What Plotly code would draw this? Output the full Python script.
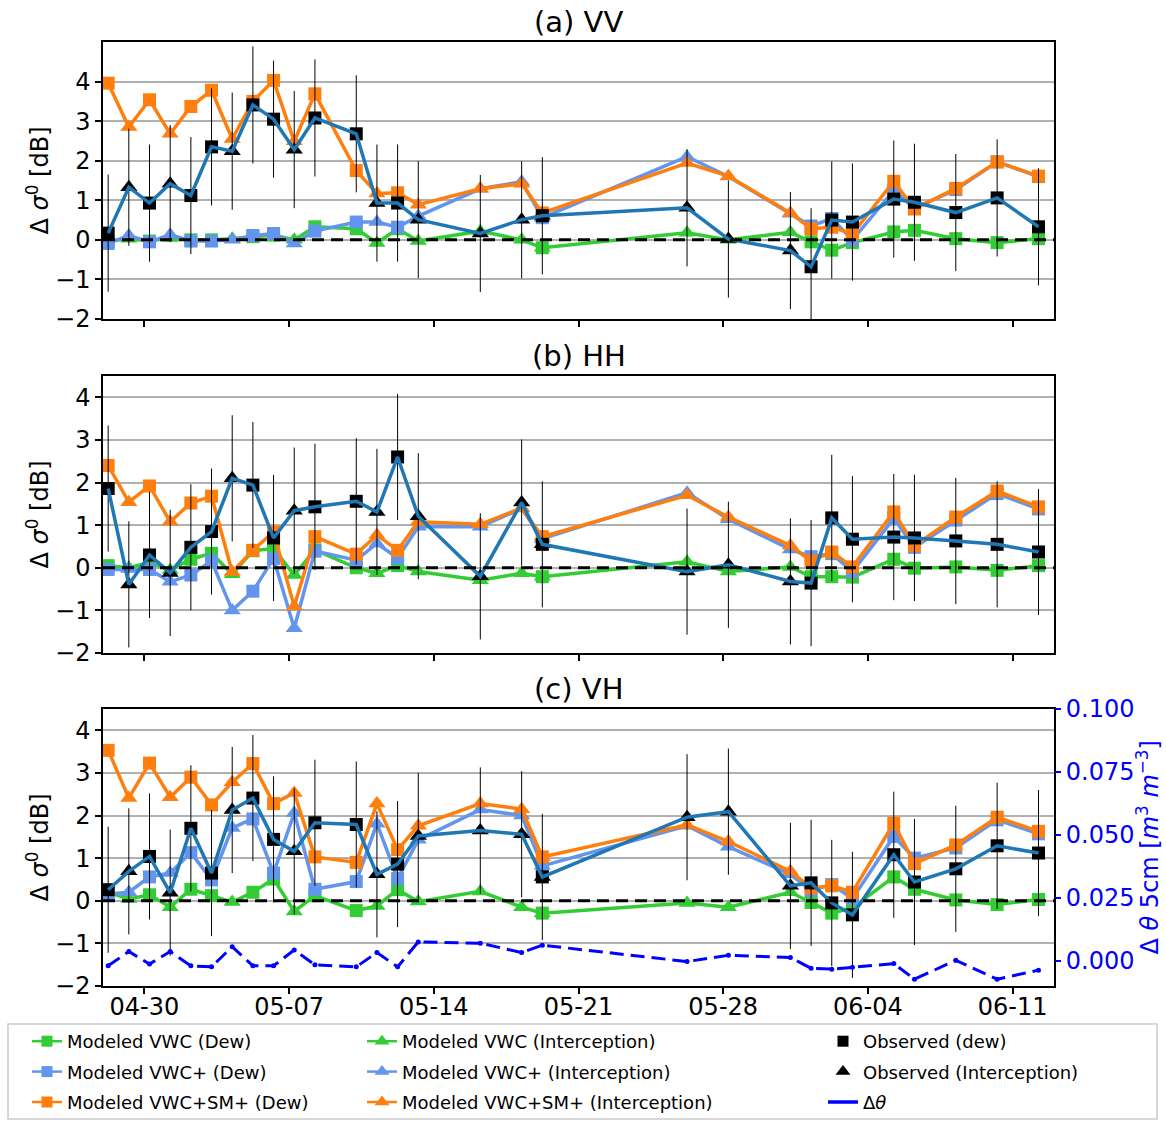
import plotly.graph_objects as go

W, H = 1166, 1121
FONT = "DejaVu Sans"

# ---- acquisition dates (morning passes) and event type: D = dew, I = interception, B = both
dates = [
    "2019-04-28 06:00", "2019-04-29 06:00", "2019-04-30 06:00", "2019-05-01 06:00",
    "2019-05-02 06:00", "2019-05-03 06:00", "2019-05-04 06:00", "2019-05-05 06:00",
    "2019-05-06 06:00", "2019-05-07 06:00", "2019-05-08 06:00", "2019-05-10 06:00",
    "2019-05-11 06:00", "2019-05-12 06:00", "2019-05-13 06:00", "2019-05-16 06:00",
    "2019-05-18 06:00", "2019-05-19 06:00", "2019-05-26 06:00", "2019-05-28 06:00",
    "2019-05-31 06:00", "2019-06-01 06:00", "2019-06-02 06:00", "2019-06-03 06:00",
    "2019-06-05 06:00", "2019-06-06 06:00", "2019-06-08 06:00", "2019-06-10 06:00",
    "2019-06-12 06:00",
]
event = ["D", "I", "D", "I", "D", "D", "I", "D", "D", "I", "D", "D", "I", "D", "I",
         "I", "I", "B", "I", "I", "I", "D", "D", "D", "D", "D", "D", "D", "D"]

x_range = ["2019-04-28", "2019-06-13"]
tick_dates = ["2019-04-30", "2019-05-07", "2019-05-14", "2019-05-21",
              "2019-05-28", "2019-06-04", "2019-06-11"]
tick_labels = ["04-30", "05-07", "05-14", "05-21", "05-28", "06-04", "06-11"]

# ---- VV
vv_vwc = [-0.03, 0.03, -0.03, 0.05, 0.0, 0.0, 0.03, 0.08, 0.12, 0.0, 0.33, 0.28, -0.08,
          0.28, -0.03, 0.22, 0.0, -0.2, 0.18, 0.0, 0.19, -0.05, -0.26, -0.07, 0.2, 0.24,
          0.03, -0.07, 0.03]
vv_vwcp = [-0.09, 0.11, -0.05, 0.13, -0.03, -0.03, 0.0, 0.11, 0.16, -0.09, 0.22, 0.45, 0.45,
           0.32, 0.6, 1.29, 1.47, 0.56, 2.1, 1.6, 0.66, 0.35, 0.54, 0.0, 1.25, 0.8, 1.27,
           1.97, 1.6]
vv_full = [3.96, 2.85, 3.54, 2.68, 3.37, 3.78, 2.55, 3.5, 4.03, 2.49, 3.69, 1.75, 1.17,
           1.19, 0.89, 1.29, 1.42, 0.68, 1.94, 1.61, 0.68, 0.28, 0.32, 0.15, 1.48, 0.78,
           1.3, 1.97, 1.61]
vv_obs = [0.17, 1.33, 0.93, 1.42, 1.12, 2.35, 2.24, 3.41, 3.05, 2.28, 3.08, 2.68, 0.93,
          0.93, 0.51, 0.16, 0.51, 0.61, 0.81, 0.02, -0.27, -0.68, 0.5, 0.45, 1.03, 0.95,
          0.69, 1.06, 0.33]

# ---- HH
hh_vwc = [0.05, 0.0, 0.12, -0.05, 0.2, 0.34, -0.15, 0.4, 0.45, -0.17, 0.42, 0.0, -0.13,
          0.05, -0.09, -0.29, -0.13, -0.21, 0.14, -0.09, 0.02, -0.21, -0.21, -0.22, 0.2,
          -0.01, 0.02, -0.06, 0.05]
hh_vwcp = [-0.04, -0.03, -0.04, -0.33, -0.17, 0.16, -1.0, -0.55, 0.22, -1.42, 0.39, 0.18,
           0.57, 0.23, 0.96, 0.96, 1.39, 0.68, 1.76, 1.14, 0.43, 0.26, 0.33, -0.09, 1.16,
           0.48, 1.12, 1.74, 1.38]
hh_full = [2.4, 1.54, 1.92, 1.08, 1.52, 1.68, -0.1, 0.41, 0.84, -0.91, 0.73, 0.32, 0.77,
           0.41, 1.08, 1.02, 1.4, 0.73, 1.7, 1.19, 0.52, 0.16, 0.37, 0.02, 1.31, 0.52,
           1.19, 1.8, 1.43]
hh_obs = [1.86, -0.39, 0.3, -0.12, 0.48, 0.85, 2.1, 1.94, 0.7, 1.34, 1.43, 1.56, 1.31,
          2.6, 1.21, -0.2, 1.53, 0.55, -0.09, 0.07, -0.32, -0.36, 1.17, 0.67, 0.72, 0.7,
          0.63, 0.55, 0.37]

# ---- VH
vh_vwc = [0.2, 0.04, 0.14, -0.15, 0.27, 0.12, -0.03, 0.2, 0.51, -0.25, 0.12, -0.23, -0.12,
          0.26, -0.02, 0.22, -0.15, -0.29, -0.05, -0.15, 0.2, -0.04, -0.29, -0.17, 0.56,
          0.27, 0.02, -0.09, 0.03]
vh_vwcp = [0.16, 0.2, 0.56, 0.65, 1.13, 0.49, 1.71, 1.92, 0.65, 2.06, 0.27, 0.45, 1.81,
           0.52, 1.43, 2.14, 2.0, 0.82, 1.76, 1.27, 0.62, 0.24, 0.38, 0.05, 1.51, 1.0,
           1.24, 1.9, 1.57]
vh_full = [3.53, 2.41, 3.23, 2.43, 2.9, 2.25, 2.78, 3.22, 2.28, 2.53, 1.03, 0.9, 2.28,
           1.2, 1.76, 2.28, 2.15, 1.03, 1.78, 1.39, 0.69, 0.3, 0.35, 0.2, 1.82, 0.87,
           1.31, 1.96, 1.63]
vh_obs = [0.26, 0.69, 1.04, 0.19, 1.7, 0.65, 2.13, 2.41, 1.44, 1.16, 1.83, 1.79, 0.62,
          0.86, 1.52, 1.65, 1.56, 0.56, 1.96, 2.09, 0.35, 0.42, -0.05, -0.33, 1.08, 0.44,
          0.75, 1.29, 1.12]

# observation uncertainty (half-width of the error bars, dB)
obs_err = [1.48, 1.48, 1.48]

# change of 5 cm soil moisture
dtheta = [-0.0020, 0.0037, -0.0013, 0.0037, -0.0020, -0.0024, 0.0056, -0.0020, -0.0020,
          0.0043, -0.0016, -0.0024, 0.0033, -0.0024, 0.0075, 0.0070, 0.0033, 0.0062,
          -0.0003, 0.0022, 0.0013, -0.0030, -0.0033, -0.0026, -0.0011, -0.0073, 0.0002,
          -0.0073, -0.0037]

panel_titles = ["(a) VV", "(b) HH", "(c) VH"]
y_ranges = [[-2, 5], [-2, 4.5], [-2, 4.5]]
y_ticks = [-2, -1, 0, 1, 2, 3, 4]
dtheta_range = [-0.01, 0.1]
dtheta_ticks = [0.0, 0.025, 0.05, 0.075, 0.1]

GREEN = "#32CD32"
LBLUE = "#6495ED"
ORANGE = "#ff7f0e"
OBSLINE = "#1f77b4"
BLUE = "#0000ff"

panels = [
    (vv_vwc, vv_vwcp, vv_full, vv_obs),
    (hh_vwc, hh_vwcp, hh_full, hh_obs),
    (vh_vwc, vh_vwcp, vh_full, vh_obs),
]


def fx(p):
    return p / W


def fy(p):
    return 1 - p / H


X_DOM = [fx(103), fx(1054)]
panel_px = [(42, 319), (376, 653), (709, 986)]

SQ, TRI = 13, 15
sym = ["triangle-up" if e == "I" else "square" for e in event]
size = [TRI if s == "triangle-up" else SQ for s in sym]
both = [i for i, e in enumerate(event) if e == "B"]
LW = 3.5


def mk(symbol, sz, col):
    return dict(symbol=symbol, size=sz, color=col, opacity=1, line=dict(width=0))


fig = go.Figure()

for k, (vwc, vwcp, full, obs) in enumerate(panels):
    xa = "x" if k == 0 else f"x{k + 1}"
    ya = "y" if k == 0 else f"y{k + 1}"
    for vals, col in [(vwc, GREEN), (vwcp, LBLUE), (full, ORANGE)]:
        fig.add_trace(go.Scatter(
            x=dates, y=vals, mode="lines+markers", xaxis=xa, yaxis=ya,
            line=dict(color=col, width=LW), marker=mk(sym, size, col),
            showlegend=False, hoverinfo="skip"))
        fig.add_trace(go.Scatter(
            x=[dates[i] for i in both], y=[vals[i] for i in both], mode="markers",
            xaxis=xa, yaxis=ya, marker=mk("triangle-up", TRI, col),
            showlegend=False, hoverinfo="skip"))
    fig.add_trace(go.Scatter(
        x=dates, y=obs, mode="markers", xaxis=xa, yaxis=ya,
        marker=mk(sym, size, "black"),
        error_y=dict(type="constant", value=obs_err[k], color="black",
                     thickness=1, width=0),
        showlegend=False, hoverinfo="skip"))
    fig.add_trace(go.Scatter(
        x=[dates[i] for i in both], y=[obs[i] for i in both], mode="markers",
        xaxis=xa, yaxis=ya, marker=mk("triangle-up", TRI, "black"),
        showlegend=False, hoverinfo="skip"))
    fig.add_trace(go.Scatter(
        x=dates, y=obs, mode="lines", xaxis=xa, yaxis=ya,
        line=dict(color=OBSLINE, width=LW),
        showlegend=False, hoverinfo="skip"))
    # zero reference
    fig.add_shape(type="line", xref=f"{xa} domain", yref=ya, x0=0, x1=1, y0=0, y1=0,
                  line=dict(color="black", width=3, dash="12px,7px"), layer="above")

# soil moisture change on the secondary axis of the VH panel
fig.add_trace(go.Scatter(
    x=dates, y=dtheta, mode="lines+markers", xaxis="x3", yaxis="y4",
    line=dict(color=BLUE, width=3, dash="14px,7px"),
    marker=mk("circle", 5, BLUE),
    showlegend=False, hoverinfo="skip"))

# ---- legend entries
legend_items = [
    ("legend", "Modeled VWC (Dew)", GREEN, "lines+markers", "square"),
    ("legend", "Modeled VWC+ (Dew)", LBLUE, "lines+markers", "square"),
    ("legend", "Modeled VWC+SM+ (Dew)", ORANGE, "lines+markers", "square"),
    ("legend2", "Modeled VWC (Interception)", GREEN, "lines+markers", "triangle-up"),
    ("legend2", "Modeled VWC+ (Interception)", LBLUE, "lines+markers", "triangle-up"),
    ("legend2", "Modeled VWC+SM+ (Interception)", ORANGE, "lines+markers", "triangle-up"),
    ("legend3", "Observed (dew)", "black", "markers", "square"),
    ("legend3", "Observed (Interception)", "black", "markers", "triangle-up"),
    ("legend3", "Δ<i>θ</i>", BLUE, "lines", "circle"),
]
for i, (lg, name, col, mode, s) in enumerate(legend_items):
    fig.add_trace(go.Scatter(
        x=[None], y=[None], mode=mode, name=name, legend=lg, legendgroup=f"g{i}",
        line=dict(color=col, width=3.5 if col == BLUE else 2.5),
        marker=mk(s, 11 if s == "square" else 13, col),
        xaxis="x", yaxis="y"))

axis_common = dict(
    showline=True, linecolor="black", linewidth=1.5, mirror=True,
    ticks="outside", ticklen=6, tickwidth=1.5, tickcolor="black",
    tickfont=dict(size=24, color="black", family=FONT), zeroline=False,
    automargin=False,
)

layout = dict(
    template="none",
    width=W, height=H, margin=dict(l=0, r=0, t=0, b=0, autoexpand=False),
    paper_bgcolor="white", plot_bgcolor="white",
    font=dict(family=FONT, size=18, color="black"),
    shapes=list(fig.layout.shapes),
)

for k in range(3):
    sfx = "" if k == 0 else str(k + 1)
    top, bot = panel_px[k]
    layout[f"xaxis{sfx}"] = dict(
        axis_common, type="date", range=x_range, tickvals=tick_dates, ticktext=tick_labels,
        showticklabels=(k == 2), showgrid=False, domain=X_DOM, anchor=f"y{sfx}",
        ticklabelstandoff=-8)
    layout[f"yaxis{sfx}"] = dict(
        axis_common, range=y_ranges[k], tickvals=y_ticks, showgrid=True,
        gridcolor="#b0b0b0", gridwidth=1.6, domain=[fy(bot), fy(top)], anchor=f"x{sfx}")

layout["yaxis4"] = dict(
    overlaying="y3", side="right", anchor="x3", range=dtheta_range,
    tickvals=dtheta_ticks, tickformat=".3f", showgrid=False, showline=False,
    zeroline=False, ticks="outside", ticklen=6, tickwidth=1.5, tickcolor=BLUE,
    tickfont=dict(size=24, color=BLUE, family=FONT), automargin=False)

annotations = []
for k, title in enumerate(panel_titles):
    top, bot = panel_px[k]
    annotations.append(dict(
        text=title, xref="paper", yref="paper", x=(X_DOM[0] + X_DOM[1]) / 2,
        y=fy(top - 20), xanchor="center", yanchor="middle", showarrow=False,
        font=dict(size=29, family=FONT, color="black")))
    annotations.append(dict(
        text="Δ <i>σ</i><sup>0</sup> [dB]", xref="paper", yref="paper", x=fx(37),
        y=fy((top + bot) / 2), xanchor="center", yanchor="middle", textangle=-90,
        showarrow=False, font=dict(size=24, family=FONT, color="black")))
top, bot = panel_px[2]
annotations.append(dict(
    text="Δ <i>θ</i> 5cm [<i>m</i><sup>3</sup> <i>m</i><sup>−3</sup>]", xref="paper",
    yref="paper", x=fx(1147), y=fy((top + bot) / 2), xanchor="center", yanchor="middle",
    textangle=-90, showarrow=False, font=dict(size=24, family=FONT, color=BLUE)))
layout["annotations"] = annotations

legend_common = dict(
    orientation="v", yanchor="top", xanchor="left", bgcolor="rgba(0,0,0,0)",
    borderwidth=0, font=dict(size=18, family=FONT, color="black"),
    tracegroupgap=4, itemsizing="trace")
layout["legend"] = dict(legend_common, x=fx(27), y=fy(1023))
layout["legend2"] = dict(legend_common, x=fx(362), y=fy(1023))
layout["legend3"] = dict(legend_common, x=fx(823), y=fy(1023))

fig.update_layout(**layout)

# legend frame
fig.add_shape(type="rect", xref="paper", yref="paper", x0=fx(8), x1=fx(1157),
              y0=fy(1119), y1=fy(1024), line=dict(color="#cccccc", width=1.5),
              fillcolor="rgba(255,255,255,0)", layer="above")

fig.write_html("out.html")
